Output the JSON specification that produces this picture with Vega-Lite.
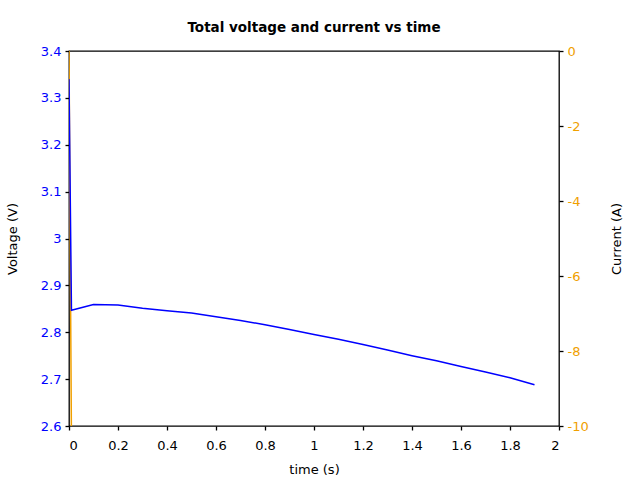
{
  "$schema": "https://vega.github.io/schema/vega-lite/v6.json",
  "width": 490,
  "height": 375,
  "autosize": {"type": "none"},
  "padding": {"left": 69, "top": 51, "right": 81, "bottom": 54},
  "background": "white",
  "title": {"text": "Total voltage and current vs time", "font": "DejaVu Sans", "fontSize": 13.5, "fontWeight": "bold", "offset": 11, "color": "black"},
  "config": {
    "view": {"stroke": "black", "strokeWidth": 1.3},
    "axis": {"grid": false, "domain": false, "font": "DejaVu Sans", "labelFont": "DejaVu Sans", "titleFont": "DejaVu Sans", "labelFontSize": 13, "titleFontSize": 13, "titleFontWeight": "normal", "tickColor": "black", "tickWidth": 1.3, "tickSize": 4}
  },
  "datasets": {
    "voltage": [
      {"t": 0, "v": 3.34}, {"t": 0.01, "v": 2.847}, {"t": 0.1, "v": 2.859}, {"t": 0.2, "v": 2.858},
      {"t": 0.3, "v": 2.851}, {"t": 0.4, "v": 2.846}, {"t": 0.5, "v": 2.841}, {"t": 0.6, "v": 2.833},
      {"t": 0.7, "v": 2.825}, {"t": 0.8, "v": 2.816}, {"t": 0.9, "v": 2.806}, {"t": 1.0, "v": 2.795},
      {"t": 1.1, "v": 2.785}, {"t": 1.2, "v": 2.774}, {"t": 1.3, "v": 2.762}, {"t": 1.4, "v": 2.75},
      {"t": 1.5, "v": 2.739}, {"t": 1.6, "v": 2.727}, {"t": 1.7, "v": 2.715}, {"t": 1.8, "v": 2.703},
      {"t": 1.9, "v": 2.688}
    ],
    "current": [
      {"t": 0, "i": 0}, {"t": 0.01, "i": -10.3}, {"t": 0.1, "i": -10.3}, {"t": 1.9, "i": -10.3}
    ]
  },
  "layer": [
    {
      "data": {"name": "current"},
      "mark": {"type": "line", "color": "#f0a000", "strokeWidth": 1.5, "clip": true},
      "encoding": {
        "x": {"field": "t", "type": "quantitative", "scale": {"domain": [0, 2]},
              "axis": {"title": "time (s)", "values": [0, 0.2, 0.4, 0.6, 0.8, 1, 1.2, 1.4, 1.6, 1.8, 2], "format": "~g", "labelColor": "black", "titleColor": "black", "labelPadding": 9, "titlePadding": 11}},
        "y": {"field": "i", "type": "quantitative", "scale": {"domain": [-10, 0], "nice": false, "zero": false},
              "axis": {"orient": "right", "title": "Current (A)", "titleAngle": 270, "titleColor": "black", "labelColor": "#f0a000", "values": [-10, -8, -6, -4, -2, 0], "labelExpr": "datum.value + ''", "labelPadding": 4, "titlePadding": 35}}
      }
    },
    {
      "data": {"name": "voltage"},
      "mark": {"type": "line", "color": "#0000ff", "strokeWidth": 1.5, "clip": true},
      "encoding": {
        "x": {"field": "t", "type": "quantitative", "scale": {"domain": [0, 2]}},
        "y": {"field": "v", "type": "quantitative", "scale": {"domain": [2.6, 3.4], "nice": false, "zero": false},
              "axis": {"orient": "left", "title": "Voltage (V)", "titleColor": "black", "labelColor": "#0000ff", "values": [2.6, 2.7, 2.8, 2.9, 3.0, 3.1, 3.2, 3.3, 3.4], "format": "~g", "labelPadding": 4, "titlePadding": 21}}
      }
    }
  ],
  "resolve": {"scale": {"y": "independent"}, "axis": {"y": "independent"}}
}
